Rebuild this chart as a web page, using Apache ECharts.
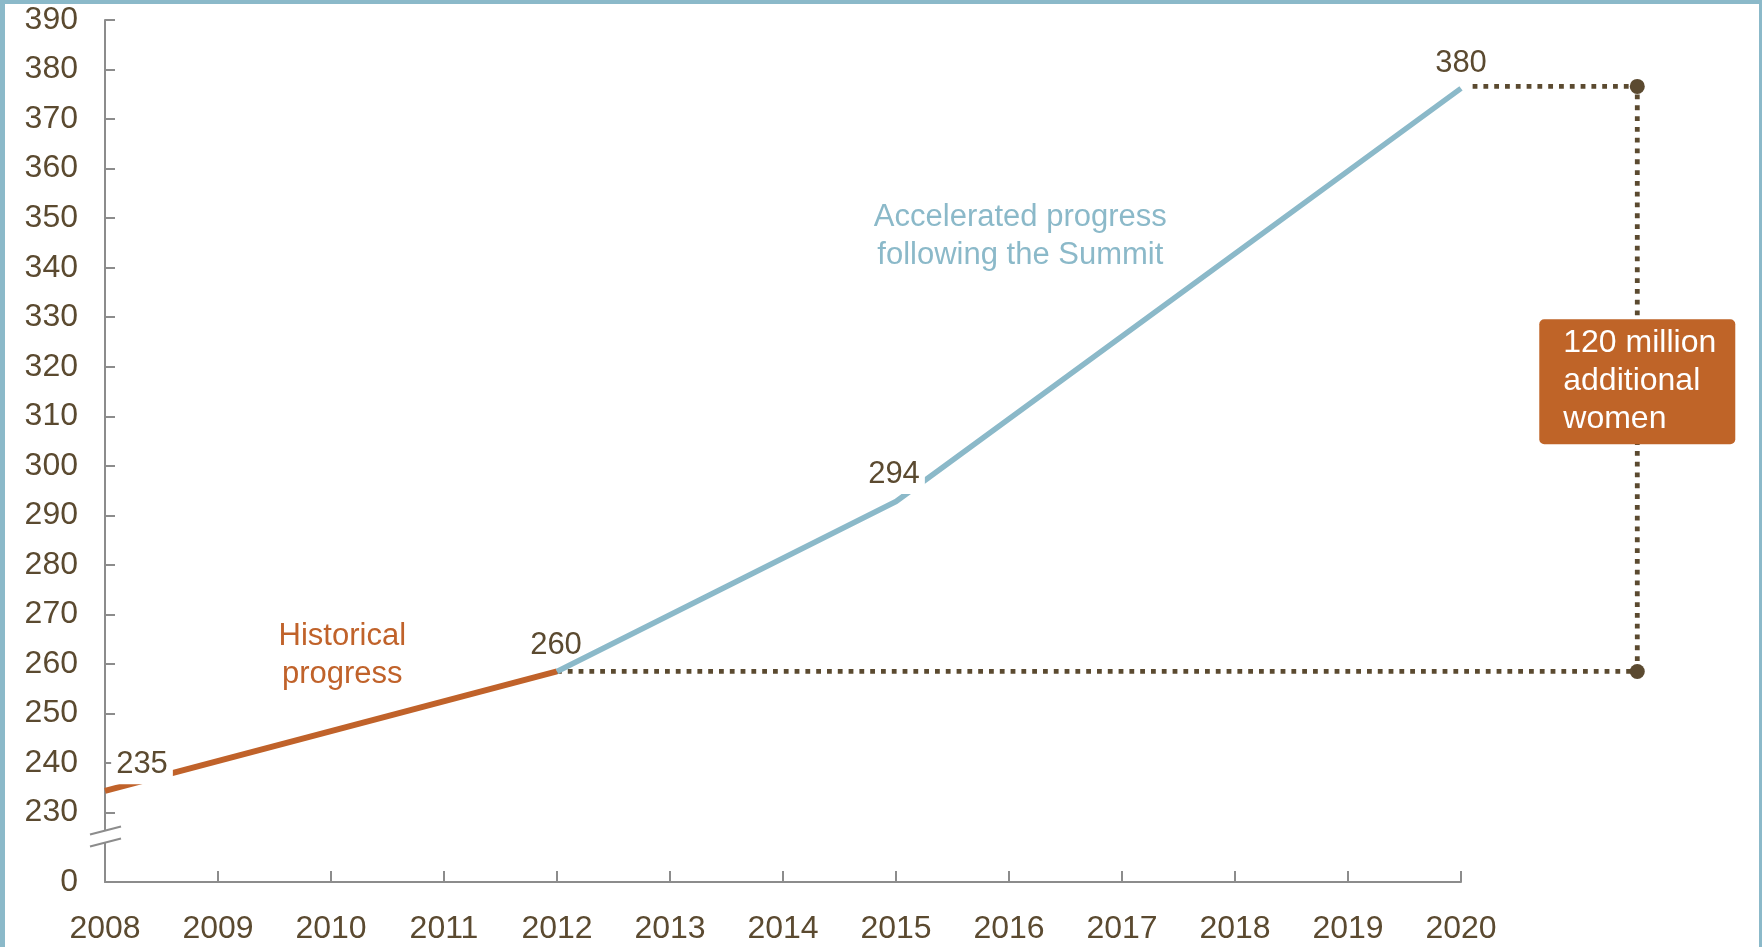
<!DOCTYPE html>
<html>
<head>
<meta charset="utf-8">
<title>Historical vs accelerated progress</title>
<script src="https://cdn.jsdelivr.net/npm/echarts@6/dist/echarts.min.js"></script>
<style>
html, body { margin: 0; padding: 0; background: #fff; }
#chart {
  width: 1762px;
  height: 947px;
  box-sizing: border-box;
  border-style: solid;
  border-color: #8bb9c9;
  border-width: 4px 3px 0 5px;
}
</style>
</head>
<body>
<div id="chart"></div>
<script>
// data
const histYears = [2008, 2012];
const histValues = [234.4, 258.5];
const accelYears = [2012, 2015, 2020];
const accelValues = [258.5, 292.8, 376.2];

const pointYears = [2008, 2012, 2015, 2020];
const pointValues = [234.4, 258.5, 292.8, 376.2];
const pointLabels = ['235', '260', '294', '380'];

const yTicks = [216, 230, 240, 250, 260, 270, 280, 290, 300, 310, 320, 330, 340, 350, 360, 370, 380, 390];

// dotted bracket showing the gap between 260 and 380
const bracketYears = [2012, 2021.56, 2021.56, 2020.08];
const bracketValues = [258.5, 258.5, 376.6, 376.6];
const dotYears = [2021.56, 2021.56];
const dotValues = [258.5, 376.6];

const boxYear = 2021.56;
const boxValue = 317.6;
const boxText = '120 million\nadditional\nwomen';

const noteYears = [2010.1, 2016.1];
const noteValues = [261.8, 346.4];
const noteTexts = ['Historical\nprogress', 'Accelerated progress\nfollowing the Summit'];

// styles
const ORANGE = '#c0622a';
const BLUE = '#8bb9c9';
const BROWN = '#5b4a30';
const GRAY = '#8c8c8c';
const FONT = "'Liberation Sans', Arial, sans-serif";
const noteColors = [ORANGE, BLUE];
const labelOffsets = [[37, -26], [-1, -26], [-2, -27], [0, -25]];
const labelBg = ['#fff', 'transparent', '#fff', '#fff'];

const zip = (xs, ys) => xs.map((x, i) => [x, ys[i]]);
const hidden = { color: 'rgba(0,0,0,0)', opacity: 1 };

const chart = echarts.init(document.getElementById('chart'));

const option = {
  animation: false,
  backgroundColor: '#fff',
  textStyle: { fontFamily: FONT },
  grid: { left: 100, right: 298, top: 16, bottom: 65, containLabel: false, outerBoundsMode: 'none' },
  xAxis: {
    type: 'value',
    min: 2008,
    max: 2020,
    interval: 1,
    splitLine: { show: false },
    axisLine: { lineStyle: { color: GRAY, width: 2 } },
    axisTick: { inside: true, length: 11, lineStyle: { color: GRAY, width: 2 } },
    axisLabel: { color: BROWN, fontSize: 32, fontFamily: FONT, margin: 31, formatter: v => String(v) }
  },
  yAxis: {
    type: 'value',
    min: 216,
    max: 390,
    splitLine: { show: false },
    axisLine: { show: true, lineStyle: { color: GRAY, width: 2 } },
    axisTick: { show: true, inside: true, length: 10, customValues: yTicks, lineStyle: { color: GRAY, width: 2 } },
    axisLabel: {
      color: BROWN, fontSize: 32, fontFamily: FONT, margin: 27,
      customValues: yTicks,
      formatter: v => (v === 216 ? '0' : String(v))
    }
  },
  series: [
    {
      name: 'Historical progress',
      type: 'line',
      data: zip(histYears, histValues),
      symbol: 'none',
      lineStyle: { color: ORANGE, width: 6, cap: 'butt' },
      z: 3
    },
    {
      name: 'Accelerated progress',
      type: 'line',
      data: zip(accelYears, accelValues),
      symbol: 'none',
      lineStyle: { color: BLUE, width: 5.5, cap: 'butt' },
      z: 3
    },
    {
      name: 'bracket ends',
      type: 'scatter',
      data: zip(dotYears, dotValues),
      clip: false,
      symbol: 'circle',
      symbolSize: 15,
      itemStyle: { color: BROWN, opacity: 1 },
      z: 4
    },
    {
      name: 'value labels',
      type: 'scatter',
      clip: false,
      symbolSize: 1,
      itemStyle: hidden,
      data: pointYears.map((y, i) => ({
        value: [y, pointValues[i]],
        label: { offset: labelOffsets[i], backgroundColor: labelBg[i] }
      })),
      label: {
        show: true,
        position: 'inside',
        formatter: p => pointLabels[p.dataIndex],
        color: BROWN,
        fontSize: 31,
        fontFamily: FONT,
        padding: [2, 5, 6, 5]
      },
      z: 6
    },
    {
      name: 'notes',
      type: 'scatter',
      clip: false,
      symbolSize: 1,
      itemStyle: hidden,
      data: noteYears.map((y, i) => ({
        value: [y, noteValues[i]],
        label: { color: noteColors[i] }
      })),
      label: {
        show: true,
        position: 'inside',
        formatter: p => noteTexts[p.dataIndex],
        fontSize: 31,
        lineHeight: 38,
        fontFamily: FONT,
        align: 'center'
      },
      z: 6
    },
    {
      name: 'gap box',
      type: 'scatter',
      clip: false,
      symbolSize: 1,
      itemStyle: hidden,
      data: [[boxYear, boxValue]],
      label: {
        show: true,
        position: 'inside',
        offset: [-98, 3],
        formatter: () => boxText,
        color: '#fff',
        fontSize: 32,
        lineHeight: 38,
        fontFamily: FONT,
        align: 'left',
        width: 162,
        backgroundColor: '#bf6428',
        borderRadius: 5,
        padding: [11, 10, 0, 24]
      },
      z: 10
    }
  ]
};

chart.setOption(option);

// dotted bracket and axis break marks, placed through the grid's own scale
const toPx = p => chart.convertToPixel({ gridIndex: 0 }, p);
const bracketPts = zip(bracketYears, bracketValues).map(toPx);
const [bx, by] = toPx([2008, 225.2]);
chart.setOption({
  graphic: [
    {
      type: 'polyline', z: 3, silent: true,
      shape: { points: bracketPts },
      style: { stroke: BROWN, lineWidth: 4.8, lineDash: [4.8, 6], fill: null }
    },
    { type: 'rect', z: 50, shape: { x: bx - 3, y: by - 6, width: 6, height: 12 }, style: { fill: '#fff' } },
    { type: 'line', z: 51, shape: { x1: bx - 15, y1: by - 2, x2: bx + 16, y2: by - 10 }, style: { stroke: GRAY, lineWidth: 2 } },
    { type: 'line', z: 51, shape: { x1: bx - 15, y1: by + 10, x2: bx + 16, y2: by + 2 }, style: { stroke: GRAY, lineWidth: 2 } }
  ]
});
</script>
</body>
</html>
